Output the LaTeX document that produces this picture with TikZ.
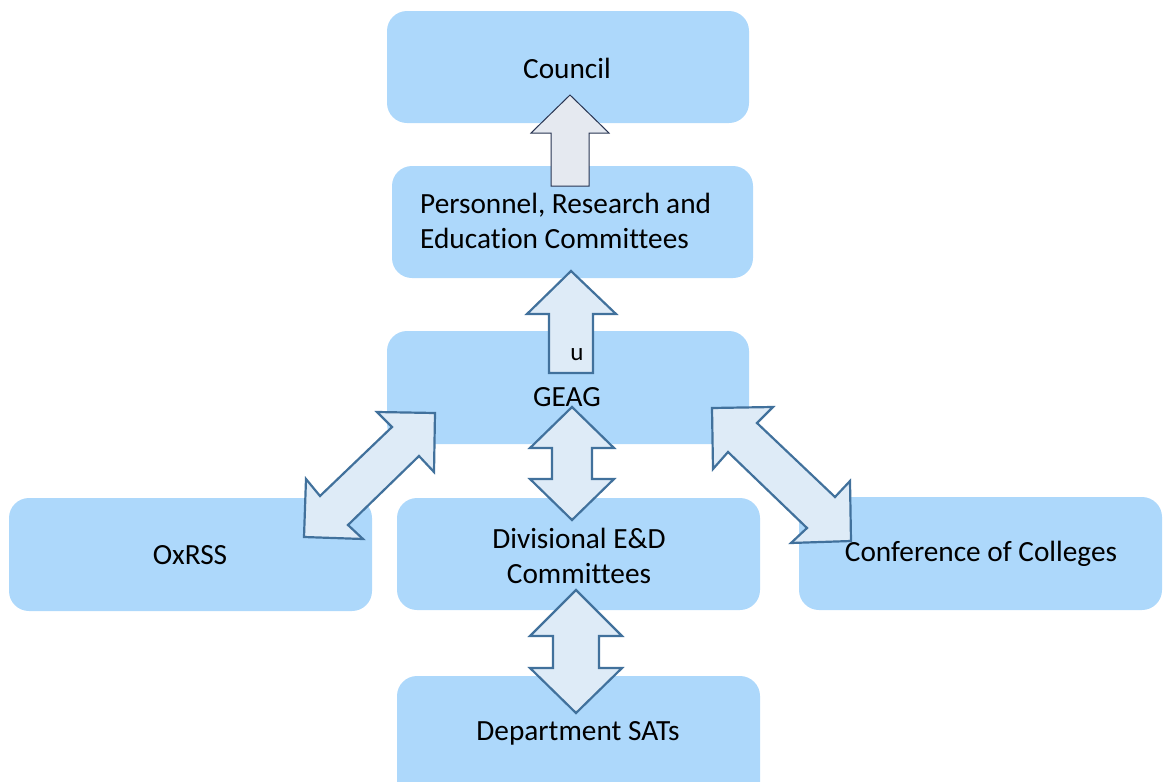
\documentclass[tikz,border=0pt]{standalone}
\usepackage{fontspec}
\setmainfont{Carlito}[Ligatures=NoCommon]
\definecolor{boxfill}{RGB}{173,216,251}
\definecolor{arrfill}{RGB}{222,235,247}
\definecolor{arrline}{RGB}{65,113,156}
\definecolor{topfill}{RGB}{229,233,240}
\definecolor{topline}{RGB}{40,52,82}
\tikzset{
  box/.style={fill=boxfill, draw=none, rounded corners=20pt},
  lbl/.style={text=black, font=\fontsize{29.3}{35}\selectfont, inner sep=0pt, align=center},
  blockarrow/.style={fill=arrfill, draw=arrline, line width=2.2pt, line join=miter},
  toparrow/.style={fill=topfill, draw=topline, line width=1pt, line join=miter}
}
\begin{document}
\begin{tikzpicture}[x=1pt,y=-1pt]
\useasboundingbox (0,0) rectangle (1163,782);
\clip (0,0) rectangle (1163,782);
% boxes
\path[box] (387,11) rectangle (749,123);
\node[inner sep=0pt] (council) at (568,67) {};
\path[box] (392,166) rectangle (753,278);
\node[inner sep=0pt] (prec) at (572,222) {};
\path[box] (387,331) rectangle (749,444);
\node[inner sep=0pt] (geag) at (568,387) {};
\path[box] (9,498) rectangle (372,611);
\node[inner sep=0pt] (oxrss) at (190,554) {};
\path[box] (397,498) rectangle (760,610);
\node[inner sep=0pt] (div) at (578,554) {};
\path[box] (397,676) rectangle (760,820);
\node[inner sep=0pt] (sats) at (578,733) {};
\path[box] (799,497) rectangle (1162,610);
\node[inner sep=0pt] (conf) at (980,553) {};
% arrows
\draw[toparrow] (570,95) -- (609,133) -- (589,133) -- (589,186) -- (551,186) -- (551,133) -- (531,133) -- cycle;
\draw[blockarrow] (571,271) -- (616,314) -- (593,314) -- (593,373) -- (549,373) -- (549,314) -- (527,314) -- cycle;
\draw[blockarrow] (572,407) -- (614,448) -- (592,448) -- (592,479) -- (614,479) -- (572,520) -- (530,479) -- (552,479) -- (552,448) -- (530,448) -- cycle;
\draw[blockarrow] (576,590) -- (622,636) -- (599,636) -- (599,668) -- (622,668) -- (576,713) -- (530,668) -- (553,668) -- (553,636) -- (530,636) -- cycle;
\draw[blockarrow] (435,413) -- (434,472) -- (419,456) -- (348,525) -- (363,539) -- (304,537) -- (306,479) -- (320,496) -- (392,427) -- (377,412) -- cycle;
\draw[blockarrow] (712,408) -- (773,407) -- (757,423) -- (835,497) -- (850,481) -- (851,541) -- (791,543) -- (807,528) -- (728,452) -- (713,469) -- cycle;
% texts
\node[lbl] (tcouncil) at (567,68) {Council};
\node[lbl, anchor=west, align=left] (tprec) at (420,221) {Personnel, Research and\\Education Committees};
\node[lbl] (tu) at (577,355) {\fontsize{25}{28}\selectfont u};
\node[lbl] (tgeag) at (567,397) {GEAG};
\node[lbl] (toxrss) at (190,555) {OxRSS};
\node[lbl] (tdiv) at (579,556) {Divisional E\&D\\Committees};
\node[lbl] (tsats) at (578,733) {Department SATs};
\node[lbl] (tconf) at (981,554) {Conference of Colleges};
\end{tikzpicture}
\end{document}
